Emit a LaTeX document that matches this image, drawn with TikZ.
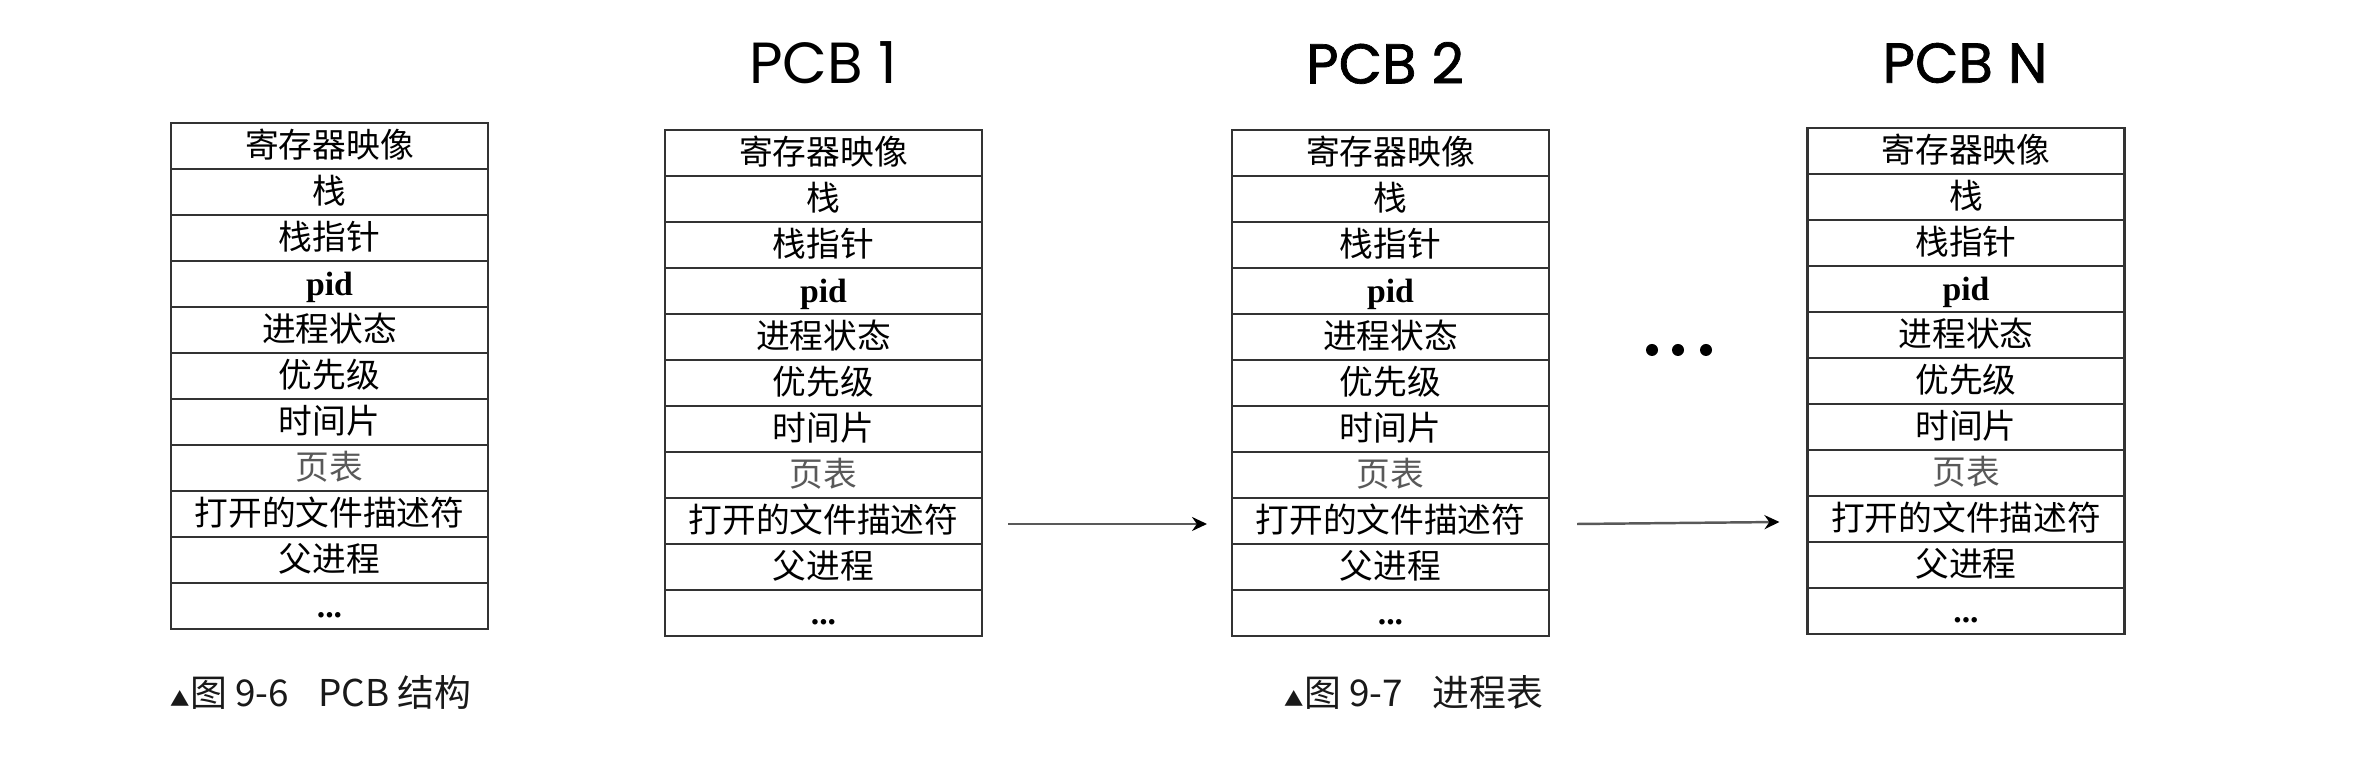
\documentclass[tikz,border=0pt]{standalone}
\usepackage{fontspec}
\usepackage{xcolor}
\usetikzlibrary{positioning, arrows.meta}
\setmainfont{Liberation Serif}
\newfontfamily\cjk{Noto Sans CJK SC}
\newfontfamily\titlefont{Poppins}
\newfontfamily\titlefontb[FakeBold=1.2]{Poppins}
\colorlet{LineGray}{black!80}
\colorlet{ArrowGray}{black!65}
\tikzset{
  field/.style={draw=LineGray, line width=0.6pt, minimum width=3.17cm, minimum height=0.46cm,
    inner sep=0pt, outer sep=0pt, font=\cjk\fontsize{9.6}{10}\selectfont,
    text height=0.82em, text depth=0.18em},
  pcbtitle/.style={font=\titlefont\fontsize{16.5}{18}\selectfont, inner sep=0pt},
  pcbtitleb/.style={font=\titlefontb\fontsize{16}{18}\selectfont, inner sep=0pt},
  figcap/.style={font=\cjk\fontsize{10.5}{11}\selectfont, anchor=west, inner sep=0pt, text=black!90},
  link/.style={-{Stealth[length=0.15cm, width=0.14cm, black]}, line width=0.7pt, ArrowGray},
}
\newcommand\moredots{...}
\newcommand\pcbfields{寄存器映像,栈,栈指针,{\rmfamily\bfseries pid},进程状态,优先级,时间片,{\color{black!65}页表},打开的文件描述符,父进程,{\rmfamily\bfseries\moredots}}
% #1 name, #2 centre x, #3 top y
\newcommand\pcbtable[3]{%
  \foreach \f [count=\i from 0] in \pcbfields
    \node[field] (#1-\i) at (#2, {-(#3)-0.23-0.46*\i}) {\f};
}

\begin{document}
\begin{tikzpicture}
  \useasboundingbox (0,0) rectangle (23.6,-7.69);
  % PCB structure
  \pcbtable{s}{3.295}{1.23}
  \node[figcap] (cap1) at (1.70,-6.92) {{\fontsize{5.5}{5}\selectfont ▲}图 9-6\hspace{0.8em}PCB 结构};
  % process table
  \pcbtable{p1}{8.235}{1.30}
  \pcbtable{p2}{13.905}{1.30}
  \pcbtable{pn}{19.66}{1.28}
  \node[pcbtitle] (t1) at (8.23,-0.63) {PCB 1};
  \node[pcbtitleb] (t2) at (13.85,-0.63) {PCB 2};
  \node[pcbtitleb] (tn) at (19.65,-0.63) {PCB N};
  \draw[link] ([xshift=0.26cm, yshift=-0.03cm]p1-8.east) -- ([xshift=-0.25cm, yshift=-0.03cm]p2-8.west);
  \draw[link] ([xshift=0.28cm, yshift=-0.03cm]p2-8.east) -- ([xshift=-0.28cm, yshift=-0.03cm]pn-8.west);
  \foreach \x in {16.52,16.78,17.06}
    \fill (\x,-3.50) circle (0.06);
  \node[figcap] (cap2) at (12.84,-6.92) {{\fontsize{5.5}{5}\selectfont ▲}图 9-7\hspace{0.8em}进程表};
\end{tikzpicture}
\end{document}
